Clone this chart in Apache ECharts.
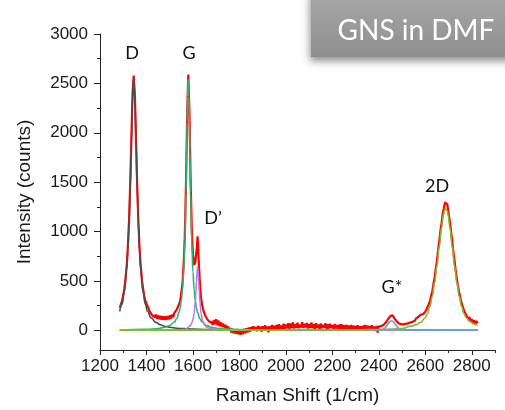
<!DOCTYPE html>
<html>
<head>
<meta charset="utf-8">
<script src="https://cdn.jsdelivr.net/npm/echarts@6/dist/echarts.min.js"></script>
<style>
  html, body { margin: 0; padding: 0; background: #fff; }
  #chart { width: 505px; height: 410px; }
</style>
</head>
<body>
<div id="chart"></div>
<script>
// Measured Raman spectrum: first shift, spacing (1/cm) and intensities (counts)
const shiftStart = 1285;
const shiftStep = 5;
const intensity = [
  228, 262, 297, 358, 424, 528, 655, 850, 1108, 1478, 1935, 2398, 2578, 2382, 1948, 1468, 1115, 840, 662, 518,
  430, 350, 304, 268, 242, 224, 186, 190, 150, 170, 132, 160, 118, 152, 112, 145, 108, 142, 106, 140,
  104, 142, 110, 150, 118, 160, 132, 176, 160, 208, 205, 265, 292, 384, 475, 668, 955, 1465, 2170, 2590,
  2205, 1515, 1022, 768, 660, 690, 790, 950, 700, 472, 326, 250, 200, 168, 140, 118, 105, 88, 76, 82,
  56, 104, 60, 112, 52, 98, 40, 82, 34, 68, 28, 56, 12, 40, -2, 24, -22, 14, -28, 4,
  -36, 12, -40, 2, -46, 4, -38, 14, -30, 20, -22, 28, -14, 34, -6, 40, -2, 32, -10, 44,
  0, 36, -16, 40, 2, 50, -2, 38, -20, 42, 4, 54, 8, 46, 0, 52, 10, 60, 6, 48,
  14, 66, 12, 58, 20, 72, 16, 68, 24, 80, 18, 64, 26, 76, 20, 58, 28, 82, 22, 66,
  30, 74, 18, 62, 26, 78, 20, 64, 16, 72, 24, 58, 12, 68, 20, 56, 26, 70, 14, 60,
  18, 66, 22, 54, 10, 62, 20, 52, 8, 58, 16, 60, 12, 50, 6, 54, 14, 48, 4, 52,
  10, 46, 2, 44, 8, 50, 4, 40, 0, 46, 6, 54, 10, 48, 2, 42, -2, 50, 8, 38,
  -8, 44, -24, 40, 38, 42, 40, 54, 60, 78, 90, 114, 122, 146, 142, 150, 128, 118, 96, 88,
  72, 70, 62, 68, 60, 72, 64, 80, 70, 88, 78, 96, 86, 104, 96, 120, 100, 134, 116, 158,
  146, 162, 172, 188, 210, 226, 262, 296, 350, 392, 466, 530, 620, 700, 808, 896, 1006, 1084, 1180, 1236,
  1296, 1278, 1274, 1184, 1112, 1018, 918, 810, 720, 618, 536, 456, 392, 334, 288, 246, 210, 182, 160, 144,
  110, 134, 90, 114, 74, 102, 64, 94, 70
];

// Fitted peak components: [shift, counts]
const fitD = [
  [1285, 190], [1295, 265], [1305, 391], [1315, 623], [1320, 810], [1325, 1075], [1330, 1438],
  [1335, 1902], [1340, 2356], [1345, 2560], [1350, 2356], [1355, 1902], [1360, 1438], [1365, 1075],
  [1370, 810], [1375, 623], [1385, 391], [1395, 265], [1405, 190], [1420, 125], [1440, 80],
  [1460, 55], [1480, 40], [1500, 30], [1530, 21], [1560, 16], [1600, 11], [1650, 8], [1700, 6],
  [1800, 3.5], [1900, 2], [2100, 1], [2825, 0]
];
const fitG = [
  [1285, 3], [1400, 9], [1450, 18], [1480, 30], [1500, 47], [1520, 83], [1530, 117], [1540, 179],
  [1545, 228], [1550, 301], [1555, 412], [1560, 589], [1565, 888], [1570, 1391], [1573, 1808],
  [1575, 2105], [1577, 2364], [1580, 2540], [1583, 2364], [1585, 2105], [1587, 1808], [1590, 1391],
  [1595, 888], [1600, 589], [1605, 412], [1610, 301], [1615, 228], [1620, 179], [1630, 117],
  [1640, 83], [1660, 47], [1680, 30], [1700, 21], [1750, 11], [1800, 6], [1900, 3], [2100, 1], [2825, 0]
];
const fitDprime = [
  [1285, 0], [1540, 3], [1570, 10], [1585, 40], [1590, 53], [1595, 74], [1600, 108], [1605, 169],
  [1610, 287], [1613, 399], [1615, 489], [1617, 576], [1620, 640], [1623, 576], [1625, 489],
  [1627, 399], [1630, 287], [1635, 169], [1640, 108], [1645, 74], [1650, 53], [1660, 31],
  [1680, 14], [1720, 5], [1800, 1.6], [2825, 0]
];
const fitGstar = [
  [1285, 0], [2380, 0], [2400, 1], [2410, 3], [2420, 11], [2425, 20], [2430, 32], [2435, 47],
  [2440, 64], [2445, 80], [2450, 91], [2455, 95], [2460, 91], [2465, 80], [2470, 64], [2475, 47],
  [2480, 32], [2485, 20], [2490, 11], [2500, 3], [2510, 1], [2530, 0], [2825, 0]
];
const fit2D = [
  [1285, 0], [1800, 1], [2100, 2], [2300, 4], [2400, 8], [2450, 12], [2500, 18], [2540, 42],
  [2560, 55], [2580, 78], [2600, 127], [2610, 170], [2620, 241], [2630, 342], [2640, 480],
  [2650, 650], [2660, 850], [2670, 1040], [2678, 1168], [2683, 1214], [2688, 1230], [2693, 1214],
  [2698, 1168], [2706, 1040], [2716, 850], [2726, 650], [2736, 480], [2746, 342], [2756, 241],
  [2766, 170], [2776, 127], [2790, 90], [2810, 62], [2825, 48]
];

// Axis ticks
const xMajorTicks = [1200, 1400, 1600, 1800, 2000, 2200, 2400, 2600, 2800];
const xMinorTicks = [1300, 1500, 1700, 1900, 2100, 2300, 2500, 2700, 2900];
const yMajorTicks = [0, 500, 1000, 1500, 2000, 2500, 3000];
const yMinorTicks = [250, 750, 1250, 1750, 2250, 2750];

// Band names
const bandNames = ['D', 'G', 'D\u2019', 'G*', '2D'];
const panelTitle = 'GNS in DMF';

const spectrum = intensity.map((v, i) => [shiftStart + i * shiftStep, v]);

const axisFont = "'Liberation Sans', Arial, sans-serif";
const inkColor = '#1a1a1a';
const plain = v => String(v);

const chart = echarts.init(document.getElementById('chart'), null, { renderer: 'canvas' });

function fitSeries(data, color) {
  return {
    type: 'line', data, showSymbol: false, smooth: true, smoothMonotone: 'x',
    lineStyle: { color, width: 1.6 }, silent: true, z: 3
  };
}

// Pixel anchors for the band captions
const bandLabelPos = [[132, 53], [189, 53], [213, 218], [392, 287], [437, 186]];

chart.setOption({
  animation: false,
  grid: { left: 100, right: 10, top: 34, bottom: 58 },
  xAxis: [
    {
      type: 'value', min: 1200, max: 2900,
      axisLine: { show: true, onZero: false, lineStyle: { color: '#222', width: 1 } },
      axisTick: { show: true, customValues: xMajorTicks, length: 5, lineStyle: { color: '#222' } },
      axisLabel: { customValues: xMajorTicks, formatter: plain, fontSize: 17, color: inkColor, fontFamily: axisFont, margin: 8 },
      splitLine: { show: false },
      name: 'Raman Shift (1/cm)', nameLocation: 'middle', nameGap: 36,
      nameTextStyle: { fontSize: 19, color: inkColor, fontFamily: axisFont }
    },
    {
      type: 'value', min: 1200, max: 2900, position: 'bottom',
      axisLine: { show: false, onZero: false },
      axisTick: { show: true, customValues: xMinorTicks, length: 3, lineStyle: { color: '#222' } },
      axisLabel: { show: false, customValues: xMinorTicks },
      splitLine: { show: false }
    }
  ],
  yAxis: [
    {
      type: 'value', min: -200, max: 3000,
      axisLine: { show: true, onZero: false, lineStyle: { color: '#222', width: 1 } },
      axisTick: { show: true, customValues: yMajorTicks, length: 6, lineStyle: { color: '#222' } },
      axisLabel: { customValues: yMajorTicks, formatter: plain, fontSize: 17, color: inkColor, fontFamily: axisFont, margin: 12 },
      splitLine: { show: false },
      name: 'Intensity (counts)', nameLocation: 'middle', nameGap: 66, nameRotate: 90,
      nameTextStyle: { fontSize: 19, color: inkColor, fontFamily: axisFont }
    },
    {
      type: 'value', min: -200, max: 3000, position: 'left',
      axisLine: { show: false, onZero: false },
      axisTick: { show: true, customValues: yMinorTicks, length: 3, lineStyle: { color: '#222' } },
      axisLabel: { show: false, customValues: yMinorTicks },
      splitLine: { show: false }
    }
  ],
  series: [
    {
      type: 'line', data: spectrum, showSymbol: false,
      lineStyle: { color: '#ff0000', width: 2.2 }, silent: true, z: 2
    },
    fitSeries(fitD, '#4d4d4d'),
    fitSeries(fitG, '#33b072'),
    fitSeries(fitDprime, '#b47ee4'),
    fitSeries(fitGstar, '#6a9fd8'),
    fitSeries(fit2D, '#7cbf2e')
  ],
  graphic: [
    ...bandNames.map((t, i) => ({
      type: 'text', x: bandLabelPos[i][0], y: bandLabelPos[i][1], z: 10,
      style: { text: t, fill: '#111', font: '18px Lato, sans-serif', align: 'center', verticalAlign: 'middle' }
    })),
    {
      type: 'rect', z: 20,
      shape: { x: 311, y: -10, width: 210, height: 67 },
      style: {
        fill: new echarts.graphic.LinearGradient(0, 0, 0, 1, [
          { offset: 0, color: '#a9a9a9' },
          { offset: 1, color: '#8e8e8e' }
        ]),
        shadowBlur: 8, shadowOffsetX: -1, shadowOffsetY: 4, shadowColor: 'rgba(0,0,0,0.45)'
      }
    },
    {
      type: 'text', x: 416, y: 31, z: 21,
      style: { text: panelTitle, fill: '#ffffff', font: '28px Lato, sans-serif', align: 'center', verticalAlign: 'middle' }
    }
  ]
});
</script>
</body>
</html>
